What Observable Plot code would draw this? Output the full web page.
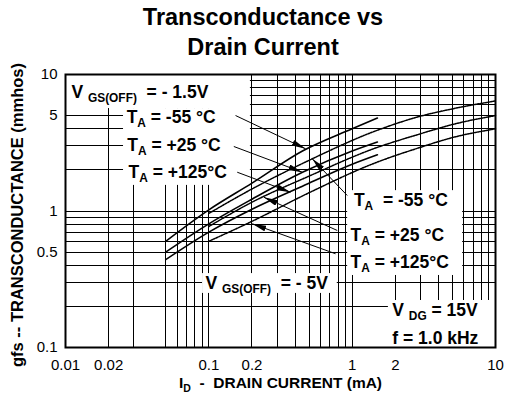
<!DOCTYPE html>
<html><head><meta charset="utf-8">
<script src="https://cdn.jsdelivr.net/npm/d3@7"></script>
<script src="https://cdn.jsdelivr.net/npm/@observablehq/plot@0.6"></script>
<style>
html,body{margin:0;padding:0;background:#fff;}
#title{width:508px;height:60px;box-sizing:border-box;padding-top:2px;padding-left:18px;text-align:center;font:bold 23.5px/30px "Liberation Sans",Arial,sans-serif;color:#000;}
svg text{white-space:pre;}
</style></head><body>
<div id="title">Transconductance vs<br>Drain Current</div>
<div id="chart"></div>
<script>
// ---- axis ticks and grid ----
const xTicks = [0.01, 0.02, 0.05, 0.1, 0.2, 0.5, 1, 2, 5, 10];
const yTicks = [0.1, 0.5, 1, 5, 10];
const xGrid = [0.02, 0.03, 0.05, 0.06, 0.07, 0.08, 0.09, 0.1, 0.2, 0.3, 0.4, 0.5, 0.6, 0.7, 0.8, 0.9, 1, 2, 3, 4, 5, 6, 7, 8, 9];
const yGrid = [0.2, 0.3, 0.4, 0.5, 0.6, 0.7, 0.8, 0.9, 1, 2, 3, 4, 5, 6, 7, 8, 9];

// ---- curves: VGS(OFF) = -1.5V (solid) ----
const idSolid = [0.05, 0.1, 0.2, 0.45, 1.0, 1.5];
const gfsSolidM55 = [0.60, 1.02, 1.6, 2.75, 4.0, 4.8];
const gfsSolidP25 = [0.50, 0.805, 1.22, 1.92, 2.75, 3.2];
const gfsSolidP125 = [0.44, 0.70, 1.03, 1.52, 2.2, 2.58];
// ---- curves: VGS(OFF) = -5V (dotted) ----
const idDotted = [0.1, 0.2, 0.5, 1.4, 3, 5, 10];
const gfsDottedM55 = [0.96, 1.45, 2.35, 3.8, 4.95, 5.6, 6.4];
const gfsDottedP25 = [0.77, 1.16, 1.8, 2.85, 3.68, 4.3, 5.0];
const gfsDottedP125 = [0.60, 0.84, 1.36, 2.22, 2.93, 3.45, 4.0];

// ---- annotation labels ----
const labelText = ["V _{GS(OFF)}  = - 1.5V", "T_{A} = -55 °C", "T_{A} = +25 °C", "T_{A} = +125°C",
  "T_{A}  = -55 °C", "T_{A} = +25 °C", "T_{A} = +125°C", "V _{GS(OFF)}  = - 5V", "V _{DG} = 15V", "f = 1.0 kHz"];
const labelX = [0.011, 0.0267, 0.027, 0.0275, 1.028, 0.975, 0.975, 0.0948, 1.905, 1.905];
const labelY = [7.38, 4.84, 3.02, 1.924, 1.194, 0.661, 0.4217, 0.2928, 0.1867, 0.1158];

// ---- white label boxes ----
const boxX1 = [0.01, 0.0254, 0.93, 0.0904, 1.79];
const boxX2 = [0.195, 0.195, 5.9, 0.787, 10];
const boxY1 = [5.63, 1.54, 0.337, 0.249, 0.1];
const boxY2 = [10, 5.63, 1.41, 0.348, 0.221];

// ---- arrows (label -> curve) ----
const arrowX1 = [0.1536, 0.1494, 0.1578, 0.924, 0.787, 0.766];
const arrowY1 = [5.006, 2.969, 1.924, 1.299, 0.720, 0.486];
const arrowX2 = [0.4729, 0.4485, 0.3716, 0.5267, 0.2419, 0.2009];
const arrowY2 = [2.856, 1.924, 1.373, 2.412, 1.262, 0.806];

const yLabel = "gfs -- TRANSCONDUCTANCE (mmhos)";
const xLabel = "I_{D}  -  DRAIN CURRENT (mA)";

// ---- build tables ----
const solidRows = [];
[["-55", gfsSolidM55], ["+25", gfsSolidP25], ["+125", gfsSolidP125]].forEach(([s, ys]) =>
  idSolid.forEach((x, i) => solidRows.push({series: s, x, y: ys[i]})));
const dottedRows = [];
[["-55", gfsDottedM55], ["+25", gfsDottedP25], ["+125", gfsDottedP125]].forEach(([s, ys]) =>
  idDotted.forEach((x, i) => dottedRows.push({series: s, x, y: ys[i]})));
const labels = labelText.map((t, i) => ({t, x: labelX[i], y: labelY[i]}));
const boxes = boxX1.map((x1, i) => ({x1, x2: boxX2[i], y1: boxY1[i], y2: boxY2[i]}));
const arrows = arrowX1.map((x1, i) => ({x1, y1: arrowY1[i], x2: arrowX2[i], y2: arrowY2[i]}));

const chart = Plot.plot({
  width: 508, height: 348,
  marginLeft: 65, marginRight: 13, marginTop: 14, marginBottom: 61,
  style: {fontFamily: "'Liberation Sans', Arial, sans-serif", fontSize: "15px", background: "white", color: "black"},
  x: {type: "log", domain: [0.01, 10], ticks: xTicks, tickFormat: d => String(d), tickSize: 0, tickPadding: 12, label: null},
  y: {type: "log", domain: [0.1, 10], ticks: yTicks, tickFormat: d => String(d), tickSize: 0, tickPadding: 8, label: null},
  marks: [
    Plot.ruleX(xGrid, {stroke: "#000", strokeWidth: 1}),
    Plot.ruleY(yGrid, {stroke: "#000", strokeWidth: 1}),
    Plot.rect(boxes, {x1: "x1", x2: "x2", y1: "y1", y2: "y2", fill: "white"}),
    Plot.line(solidRows, {x: "x", y: "y", z: "series", stroke: "black", strokeWidth: 1.6, curve: "monotone-x"}),
    Plot.line(dottedRows, {x: "x", y: "y", z: "series", stroke: "black", strokeWidth: 1.5, strokeDasharray: "1.6,1.1", curve: "monotone-x"}),
    Plot.link(arrows, {x1: "x1", y1: "y1", x2: "x2", y2: "y2", stroke: "black", strokeWidth: 1}),
    Plot.text(labels, {x: "x", y: "y", text: "t", textAnchor: "start", fontWeight: "bold", fontSize: 17.5, fill: "black"}),
    Plot.text([yLabel], {text: d => d, frameAnchor: "left", textAnchor: "middle", rotate: -90, dx: -48, dy: 4, fontWeight: "bold", fontSize: 16.5, fill: "black"}),
    Plot.text([xLabel], {text: d => d, frameAnchor: "bottom", textAnchor: "middle", dy: 40, fontWeight: "bold", fontSize: 15.5, fill: "black"}),
    Plot.frame({stroke: "black", strokeWidth: 2})
  ]
});
document.getElementById("chart").appendChild(chart);

const ns = "http://www.w3.org/2000/svg";
// crisp grid lines
chart.querySelectorAll('g[aria-label="rule"] line').forEach(l => {
  ["x1", "x2", "y1", "y2"].forEach(a => {
    const v = l.getAttribute(a);
    if (v != null) l.setAttribute(a, Math.round(+v));
  });
});
// arrowheads
const defs = document.createElementNS(ns, "defs");
const marker = document.createElementNS(ns, "marker");
marker.setAttribute("id", "ah");
marker.setAttribute("viewBox", "0 0 14 6");
marker.setAttribute("refX", "14");
marker.setAttribute("refY", "3");
marker.setAttribute("markerWidth", "14");
marker.setAttribute("markerHeight", "6");
marker.setAttribute("markerUnits", "userSpaceOnUse");
marker.setAttribute("orient", "auto");
const mp = document.createElementNS(ns, "path");
mp.setAttribute("d", "M0,0L14,3L0,6Z");
mp.setAttribute("fill", "black");
marker.appendChild(mp);
defs.appendChild(marker);
chart.insertBefore(defs, chart.firstChild);
chart.querySelectorAll('g[aria-label="link"] path').forEach(p => p.setAttribute("marker-end", "url(#ah)"));

// subscripts
chart.querySelectorAll("text").forEach(t => {
  const s = t.textContent;
  if (!s.includes("_{")) return;
  const base = parseFloat(getComputedStyle(t).fontSize) || 16;
  const sub = Math.round(base * 0.68 * 10) / 10;
  const shift = Math.round(base * 0.25);
  const parts = s.split(/_\{([^}]*)\}/);
  t.textContent = "";
  let shifted = false;
  parts.forEach((p, i) => {
    if (!p) return;
    const ts = document.createElementNS(ns, "tspan");
    ts.textContent = p;
    if (i % 2) { ts.setAttribute("font-size", sub); ts.setAttribute("dy", shift); shifted = true; }
    else if (shifted) { ts.setAttribute("dy", -shift); shifted = false; }
    t.appendChild(ts);
  });
});
</script></body></html>
